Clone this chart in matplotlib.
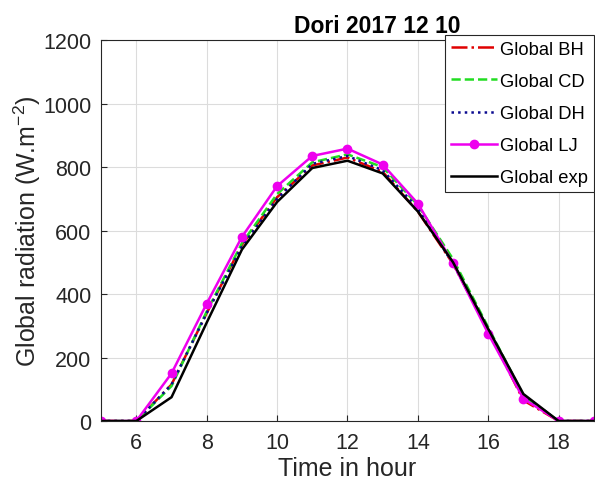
import matplotlib.pyplot as plt

plt.rcParams['font.family'] = ['Liberation Sans', 'DejaVu Sans']
plt.rcParams['axes.unicode_minus'] = False

hours = [5, 6, 7, 8, 9, 10, 11, 12, 13, 14, 15, 16, 17, 18, 19]
global_bh = [0, 0, 115, 340, 555, 705, 805, 830, 785, 660, 495, 285, 65, 0, 0]
global_cd = [0, 0, 110, 345, 560, 715, 815, 840, 800, 680, 510, 295, 80, 0, 0]
global_dh = [0, 0, 115, 340, 550, 700, 810, 835, 790, 670, 495, 290, 80, 0, 0]
global_lj = [0, 0, 150, 370, 580, 740, 835, 858, 808, 685, 497, 275, 70, 0, 0]
global_exp = [0, 0, 75, 310, 540, 690, 797, 820, 780, 660, 500, 290, 85, 0, 0]

fig = plt.figure(figsize=(5.95, 4.89), dpi=100)
ax = fig.add_axes([0.170, 0.137, 0.828, 0.779])

ax.plot(hours, global_bh, color='#e00000', linestyle='-.', linewidth=1.8, label='Global BH')
ax.plot(hours, global_cd, color='#22dd22', linestyle='--', linewidth=1.8, label='Global CD')
ax.plot(hours, global_dh, color='#0a0a90', linestyle=':', linewidth=1.8, label='Global DH')
ax.plot(hours, global_lj, color='#ee00ee', linestyle='-', linewidth=1.8, marker='o',
        markersize=6, label='Global LJ')
ax.plot(hours, global_exp, color='black', linestyle='-', linewidth=1.8, label='Global exp')

ax.set_xlim(5, 19)
ax.set_ylim(0, 1200)
ax.set_xticks([6, 8, 10, 12, 14, 16, 18])
ax.set_yticks([0, 200, 400, 600, 800, 1000, 1200])
ax.tick_params(labelsize=15.5, direction='in', length=4, color='#262626',
               labelcolor='#262626')
ax.tick_params(axis='x', pad=8)
ax.tick_params(axis='y', pad=7)
ax.grid(True, color='#dcdcdc', linewidth=0.8)
ax.set_axisbelow(True)
for s in ax.spines.values():
    s.set_color('#262626')

ax.set_xlabel('Time in hour', fontsize=18, color='#262626', labelpad=2)
ax.set_ylabel('Global radiation (W.m$^{\\mathregular{-2}}$)', fontsize=18,
              color='#262626', labelpad=0)
ax.set_title('Dori 2017 12 10', fontsize=16.5, fontweight='bold', pad=6, x=0.56)

leg = ax.legend(loc='upper right', bbox_to_anchor=(1.0, 1.013), fontsize=13.2,
                fancybox=False, framealpha=1, edgecolor='#262626', borderpad=0.3,
                labelspacing=0.83, handlelength=2.5, handletextpad=0.2,
                borderaxespad=0.0)
leg.get_frame().set_linewidth(0.8)

plt.savefig('out.png', dpi=100)
